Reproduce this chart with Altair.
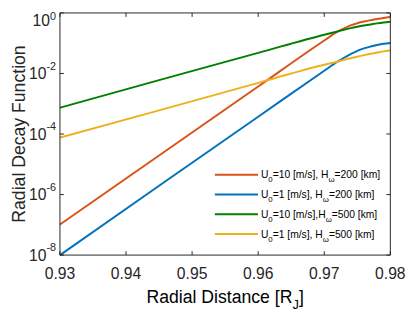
import altair as alt
import pandas as pd

# ---------------- data ----------------
x_vals = [0.93, 0.945, 0.96, 0.97, 0.972, 0.973, 0.974, 0.975, 0.976, 0.977, 0.978, 0.979, 0.98]
red_vals = [1.02e-7, 1.95e-5, 3.72e-3, 0.123, 0.240, 0.309, 0.389, 0.457, 0.519, 0.575, 0.631, 0.684, 0.733]
blue_vals = [1.0e-8, 1.95e-6, 3.72e-4, 0.0123, 0.0245, 0.0331, 0.0437, 0.0562, 0.0676, 0.0776, 0.0871, 0.0955, 0.102]
green_vals = [7.41e-4, 6.03e-3, 0.0479, 0.191, 0.245, 0.279, 0.316, 0.351, 0.385, 0.417, 0.452, 0.484, 0.513]
yellow_vals = [7.59e-5, 6.03e-4, 4.90e-3, 0.0195, 0.0245, 0.0282, 0.0320, 0.0359, 0.0403, 0.0447, 0.0490, 0.0537, 0.0575]

series_u0 = ["10", "1", "10", "1"]
series_h = ["200", "200", "500", "500"]
series_sep = [", ", ", ", ",", ", "]
series_colors = ["#D95319", "#0072BD", "#008000", "#EDB120"]

x_ticks = [0.93, 0.94, 0.95, 0.96, 0.97, 0.98]
x_tick_labels = ["0.93", "0.94", "0.95", "0.96", "0.97", "0.98"]
y_tick_vals = [1e0, 1e-2, 1e-4, 1e-6, 1e-8]
y_tick_exps = ["0", "-2", "-4", "-6", "-8"]

x_title = ["Radial Distance [R", "J", "]"]
y_title = "Radial Decay Function"

# ---------------- layout helpers ----------------
W, H = 337, 247
FONT = "Liberation Sans"
INK = "#262626"
AW = {' ': 278, ',': 278, '.': 278, '/': 278, '=': 584, '[': 278, ']': 278, '-': 333,
      'H': 722, 'U': 722, 'R': 722, 'J': 500, 'D': 722, 'F': 611, 'k': 500, 'm': 833,
      's': 500, 'a': 556, 'd': 556, 'i': 222, 'l': 222, 't': 278, 'n': 556, 'c': 500,
      'e': 556, 'y': 500, 'u': 556, 'o': 556, 'ω': 780}


def tw(s, size):
    return sum(AW.get(ch, 556) for ch in s) * size / 1000.0


xs = alt.Scale(domain=[0.93, 0.98], nice=False, zero=False)
ys = alt.Scale(type="log", domain=[1e-8, 1], nice=False)
one = pd.DataFrame({"k": [0]})

layers = []

# data lines
for vals, col in zip([red_vals, blue_vals, green_vals, yellow_vals], series_colors):
    df = pd.DataFrame({"x": x_vals, "y": vals})
    layers.append(
        alt.Chart(df).mark_line(color=col, strokeWidth=2, interpolate="monotone").encode(
            x=alt.X("x:Q", scale=xs, axis=None),
            y=alt.Y("y:Q", scale=ys, axis=None),
        )
    )

# frame
layers.append(alt.Chart(one).mark_rule(color=INK, strokeWidth=1).encode(
    x=alt.value(0), x2=alt.value(W), y=alt.value(0)))
layers.append(alt.Chart(one).mark_rule(color=INK, strokeWidth=1).encode(
    x=alt.value(0), x2=alt.value(W), y=alt.value(H)))
layers.append(alt.Chart(one).mark_rule(color=INK, strokeWidth=1).encode(
    x=alt.value(0), y=alt.value(0), y2=alt.value(H)))
layers.append(alt.Chart(one).mark_rule(color=INK, strokeWidth=1).encode(
    x=alt.value(W), y=alt.value(0), y2=alt.value(H)))

# ticks (inward, mirrored)
xt = pd.DataFrame({"t": x_ticks, "lab": x_tick_labels})
yt = pd.DataFrame({"v": y_tick_vals, "e": y_tick_exps})
for y0, y1 in [(H, H - 4), (0, 4)]:
    layers.append(alt.Chart(xt).mark_rule(color=INK, strokeWidth=1).encode(
        x=alt.X("t:Q", scale=xs, axis=None), y=alt.value(y0), y2=alt.value(y1)))
for x0, x1 in [(0, 4), (W, W - 4)]:
    layers.append(alt.Chart(yt).mark_rule(color=INK, strokeWidth=1).encode(
        y=alt.Y("v:Q", scale=ys, axis=None), x=alt.value(x0), x2=alt.value(x1)))

# x tick labels
layers.append(alt.Chart(xt).mark_text(font=FONT, fontSize=16, color=INK, align="center",
                                      baseline="alphabetic").encode(
    x=alt.X("t:Q", scale=xs, axis=None), y=alt.value(271), text="lab:N"))

# y tick labels: "10" plus superscript exponent
EXP_SIZE, BASE_SIZE, RIGHT = 11, 16, -4
yt["bx"] = [RIGHT - tw(e, EXP_SIZE) for e in y_tick_exps]
for flt, d_base, d_exp in [("datum.e != '0'", 5.7, -4), ("datum.e == '0'", 13.5, 6.8)]:
    layers.append(alt.Chart(yt).transform_filter(flt).mark_text(
        font=FONT, fontSize=BASE_SIZE, color=INK, align="right",
        baseline="alphabetic", dy=d_base, text="10").encode(
        x=alt.X("bx:Q", scale=None, axis=None), y=alt.Y("v:Q", scale=ys, axis=None)))
    layers.append(alt.Chart(yt).transform_filter(flt).mark_text(
        font=FONT, fontSize=EXP_SIZE, color=INK, align="right",
        baseline="alphabetic", dy=d_exp).encode(
        x=alt.value(RIGHT), y=alt.Y("v:Q", scale=ys, axis=None), text="e:N"))

# axis titles
TS, TSUB = 18, 13
tot = tw(x_title[0], TS) + tw(x_title[1], TSUB) + tw(x_title[2], TS)
cx = W / 2 - tot / 2
segs = []
for s, sz, off in [(x_title[0], TS, 0), (x_title[1], TSUB, 6), (x_title[2], TS, 0)]:
    segs.append({"t": s, "px": cx, "py": 296 + off, "sz": sz})
    cx += tw(s, sz)

# legend
LX0, LX1, LT = 158, 202, 205
LS, LSUB = 10.5, 8
leg_rows = []
for i in range(4):
    ry = 165 + i * 20.2
    leg_rows.append({"ry": ry, "c": series_colors[i]})
    cur = LT
    parts = [("U", LS, 0), ("0", LSUB, 4),
             ("=" + series_u0[i] + " [m/s]" + series_sep[i] + "H", LS, 0),
             ("ω", LSUB, 4), ("=" + series_h[i] + " [km]", LS, 0)]
    for s, sz, off in parts:
        segs.append({"t": s, "px": cur, "py": ry + 3.8 + off, "sz": sz})
        cur += tw(s, sz)

seg_df = pd.DataFrame(segs)
layers.append(alt.Chart(seg_df).mark_text(font=FONT, color="#000000", align="left",
                                          baseline="alphabetic").encode(
    x=alt.X("px:Q", scale=None, axis=None), y=alt.Y("py:Q", scale=None, axis=None),
    size=alt.Size("sz:Q", scale=None, legend=None), text="t:N"))

leg_df = pd.DataFrame(leg_rows)
layers.append(alt.Chart(leg_df).mark_rule(strokeWidth=2).encode(
    x=alt.value(LX0), x2=alt.value(LX1), y=alt.Y("ry:Q", scale=None, axis=None),
    color=alt.Color("c:N", scale=None, legend=None)))

layers.append(alt.Chart(pd.DataFrame({"t": [y_title]})).mark_text(
    font=FONT, fontSize=TS, color=INK, align="center", baseline="alphabetic", angle=270).encode(
    x=alt.value(-36), y=alt.value(H / 2), text="t:N"))

chart = alt.layer(*layers).resolve_scale(x="independent", y="independent").properties(
    width=W, height=H,
    autosize=alt.AutoSizeParams(type="none"),
    padding={"left": 53, "top": 2, "right": 17, "bottom": 54},
    background="white",
).configure_view(stroke=None)

chart.save("out.html", embed_options={"renderer": "svg", "actions": False})
